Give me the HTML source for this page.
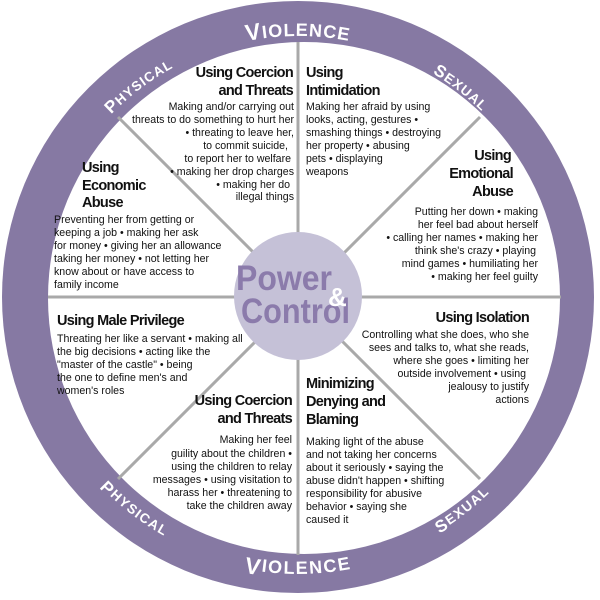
<!DOCTYPE html>
<html><head><meta charset="utf-8"><style>
html,body{margin:0;padding:0;background:#fff;}
svg{display:block;}
.h{font-family:"Liberation Sans",sans-serif;font-weight:bold;font-size:14.5px;letter-spacing:-0.7px;fill:#111;}
.b{font-family:"Liberation Sans",sans-serif;font-size:10.6px;fill:#111;}
.r{font-family:"Liberation Sans",sans-serif;font-weight:bold;fill:#fff;letter-spacing:1px;}
</style></head><body>
<svg width="600" height="600" viewBox="0 0 600 600" xmlns="http://www.w3.org/2000/svg">
<defs>
<path id="tp" d="M 36 298 A 262 262 0 0 1 560 298"/>
<path id="bp" d="M 35 298 A 263 263 0 0 0 561 298"/>
</defs>
<circle cx="298" cy="297" r="296" fill="#8679a3"/>
<circle cx="304" cy="298" r="256" fill="#fff"/>
<g stroke="#a9a9a9" stroke-width="3">
<line x1="298" y1="42" x2="298" y2="555"/>
<line x1="48" y1="297" x2="561" y2="297"/>
<line x1="118" y1="117" x2="480" y2="479"/>
<line x1="480" y1="117" x2="118" y2="479"/>
</g>
<circle cx="298" cy="296" r="64" fill="#c5c1d7"/>
<text x="236" y="290" font-family="Liberation Sans,sans-serif" font-size="35" font-weight="bold" fill="#8b7bab" textLength="96" lengthAdjust="spacingAndGlyphs">Power</text>
<text x="241" y="323" font-family="Liberation Sans,sans-serif" font-size="35" font-weight="bold" fill="#8b7bab" textLength="109" lengthAdjust="spacingAndGlyphs">Control</text>
<text x="328" y="306" font-family="Liberation Sans,sans-serif" font-size="26" font-weight="bold" fill="#fff">&amp;</text>

<text class="r"><textPath href="#tp" startOffset="50%" text-anchor="middle"><tspan font-size="23">V</tspan><tspan font-size="18">IOLENCE</tspan></textPath></text>
<text class="r"><textPath href="#tp" startOffset="29.5%" text-anchor="middle"><tspan font-size="17">P</tspan><tspan font-size="13.5">HYSICAL</tspan></textPath></text>
<text class="r"><textPath href="#tp" startOffset="71%" text-anchor="middle"><tspan font-size="17">S</tspan><tspan font-size="13.5">EXUAL</tspan></textPath></text>
<text class="r" dominant-baseline="hanging"><textPath href="#bp" startOffset="50%" text-anchor="middle"><tspan font-size="23">V</tspan><tspan font-size="18">IOLENCE</tspan></textPath></text>
<text class="r" dominant-baseline="hanging"><textPath href="#bp" startOffset="29%" text-anchor="middle"><tspan font-size="17">P</tspan><tspan font-size="13.5">HYSICAL</tspan></textPath></text>
<text class="r" dominant-baseline="hanging"><textPath href="#bp" startOffset="71%" text-anchor="middle"><tspan font-size="17">S</tspan><tspan font-size="13.5">EXUAL</tspan></textPath></text>

<g text-anchor="end">
<text class="h" x="293" y="77">Using Coercion</text>
<text class="h" x="293" y="95">and Threats</text>
<text class="b" x="294" y="110">Making and/or carrying out</text>
<text class="b" x="294" y="123">threats to do something to hurt her</text>
<text class="b" x="294" y="136">• threating to leave her,</text>
<text class="b" x="288" y="149">to commit suicide,</text>
<text class="b" x="291" y="162">to report her to welfare</text>
<text class="b" x="294" y="175">• making her drop charges</text>
<text class="b" x="290" y="188">• making her do</text>
<text class="b" x="294" y="200">illegal things</text>
</g>
<text class="h" x="306" y="77">Using</text>
<text class="h" x="306" y="95">Intimidation</text>
<text class="b" x="306" y="110">Making her afraid by using</text>
<text class="b" x="306" y="123">looks, acting, gestures •</text>
<text class="b" x="306" y="136">smashing things • destroying</text>
<text class="b" x="306" y="149">her property • abusing</text>
<text class="b" x="306" y="162">pets • displaying</text>
<text class="b" x="306" y="175">weapons</text>
<g text-anchor="end">
<text class="h" x="511" y="160">Using</text>
<text class="h" x="513" y="178">Emotional</text>
<text class="h" x="513" y="196">Abuse</text>
<text class="b" x="538" y="215">Putting her down • making</text>
<text class="b" x="538" y="228">her feel bad about herself</text>
<text class="b" x="538" y="241">• calling her names • making her</text>
<text class="b" x="536" y="254">think she's crazy • playing</text>
<text class="b" x="538" y="267">mind games • humiliating her</text>
<text class="b" x="538" y="280">• making her feel guilty</text>
</g>
<text class="h" x="82" y="172">Using</text>
<text class="h" x="82" y="190">Economic</text>
<text class="h" x="82" y="207">Abuse</text>
<text class="b" x="54" y="223">Preventing her from getting or</text>
<text class="b" x="54" y="236">keeping a job • making her ask</text>
<text class="b" x="54" y="249">for money • giving her an allowance</text>
<text class="b" x="54" y="262">taking her money • not letting her</text>
<text class="b" x="54" y="275">know about or have access to</text>
<text class="b" x="54" y="288">family income</text>
<text class="h" x="57" y="325">Using Male Privilege</text>
<text class="b" x="57" y="342">Threating her like a servant • making all</text>
<text class="b" x="57" y="355">the big decisions • acting like the</text>
<text class="b" x="57" y="368">"master of the castle" • being</text>
<text class="b" x="57" y="381">the one to define men's and</text>
<text class="b" x="57" y="394">women's roles</text>
<g text-anchor="end">
<text class="h" x="529" y="322">Using Isolation</text>
<text class="b" x="529" y="338">Controlling what she does, who she</text>
<text class="b" x="529" y="351">sees and talks to, what she reads,</text>
<text class="b" x="529" y="364">where she goes • limiting her</text>
<text class="b" x="526" y="377">outside involvement • using</text>
<text class="b" x="529" y="390">jealousy to justify</text>
<text class="b" x="529" y="403">actions</text>
</g>
<text class="h" x="306" y="388">Minimizing</text>
<text class="h" x="306" y="406">Denying and</text>
<text class="h" x="306" y="424">Blaming</text>
<text class="b" x="306" y="445">Making light of the abuse</text>
<text class="b" x="306" y="458">and not taking her concerns</text>
<text class="b" x="306" y="471">about it seriously • saying the</text>
<text class="b" x="306" y="484">abuse didn't happen • shifting</text>
<text class="b" x="306" y="497">responsibility for abusive</text>
<text class="b" x="306" y="510">behavior • saying she</text>
<text class="b" x="306" y="523">caused it</text>
<g text-anchor="end">
<text class="h" x="292" y="405">Using Coercion</text>
<text class="h" x="292" y="423">and Threats</text>
<text class="b" x="292" y="443">Making her feel</text>
<text class="b" x="292" y="457">guility about the children •</text>
<text class="b" x="292" y="470">using the children to relay</text>
<text class="b" x="292" y="483">messages • using visitation to</text>
<text class="b" x="292" y="496">harass her • threatening to</text>
<text class="b" x="292" y="509">take the children away</text>
</g>
</svg>
</body></html>
